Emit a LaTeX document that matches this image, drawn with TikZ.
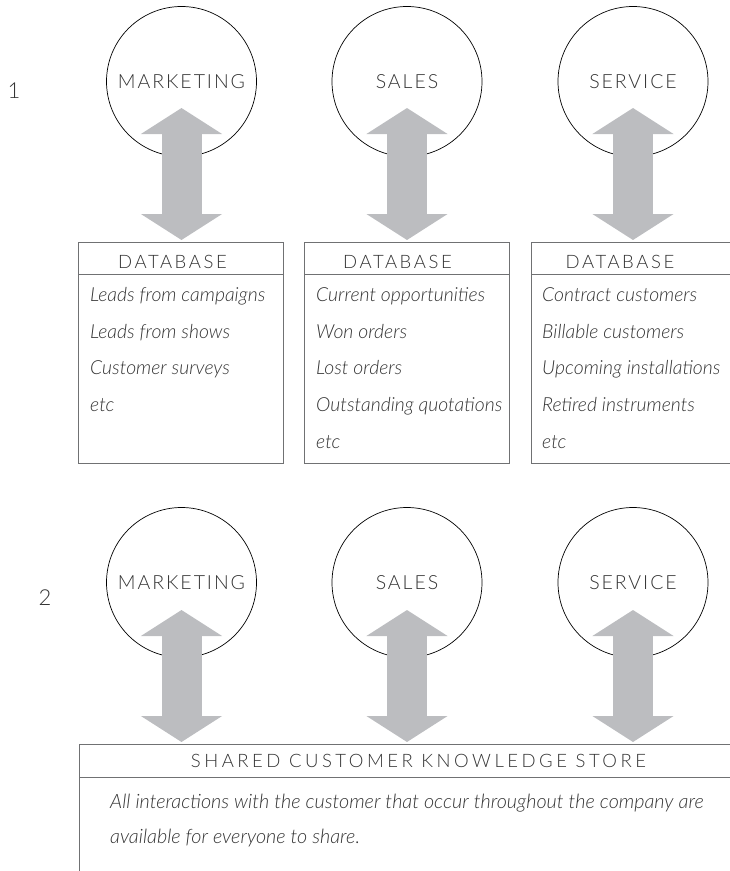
\documentclass[tikz,border=0pt]{standalone}
\usepackage{fontspec}
\setmainfont{Lato Light}[ItalicFont={Lato Light Italic}]
\newfontfamily\capsfont[LetterSpace=10]{Lato Light}
\newfontfamily\headfont[LetterSpace=14]{Lato Light}
\newfontfamily\storefont[LetterSpace=19]{Lato Light}
\usetikzlibrary{arrows.meta,calc}
\definecolor{ink}{HTML}{333333}
\definecolor{arrowgrey}{HTML}{BCBDC0}
\definecolor{rulegrey}{HTML}{707173}

\begin{document}
\begin{tikzpicture}[x=1pt,y=-1pt,
  dept/.style={circle, draw=black, line width=0.7pt, minimum size=150pt,
    inner sep=0pt, text=ink, text depth=0pt,
    font=\capsfont\fontsize{19.5}{24}\selectfont},
  dbbox/.style={draw=rulegrey, line width=1pt, rectangle, anchor=north west,
    minimum width=205pt, minimum height=221pt, inner sep=0pt},
  storebox/.style={draw=rulegrey, line width=1pt, rectangle, anchor=north west,
    minimum width=678pt, minimum height=180pt, inner sep=0pt},
  rulesep/.style={draw=rulegrey, line width=1pt},
  hdr/.style={anchor=base, inner sep=0pt, text=ink,
    font=\headfont\fontsize{18.5}{22}\selectfont},
  storehdr/.style={anchor=base, inner sep=0pt, text=ink,
    font=\storefont\fontsize{18.5}{22}\selectfont},
  item/.style={anchor=base west, inner sep=0pt, text=ink,
    font=\itshape\fontsize{19.4}{24}\selectfont},
  note/.style={anchor=base west, inner sep=0pt, text=ink,
    font=\itshape\fontsize{19.8}{24}\selectfont},
  stagenum/.style={inner sep=0pt, text=ink, font=\fontsize{22}{26}\selectfont},
  bigarrow/.style={color=arrowgrey, line width=40pt,
    {Triangle[length=26pt,width=80pt]}-{Triangle[length=26pt,width=80pt]}}
]
\useasboundingbox (0,0) rectangle (729,871);

% ---------- stage 1: separate databases ----------
\node[stagenum] (s1) at (14,91) {1};

\node[dept] (m1) at (181.5,81.5) {MARKETING};
\node[dept] (sa1) at (407,81.5) {SALES};
\node[dept] (se1) at (633,81.5) {SERVICE};

\node[dbbox] (db1) at (78,242) {};
\node[dbbox] (db2) at (304,242) {};
\node[dbbox] (db3) at (531,242) {};
\foreach \b in {db1,db2,db3}
  \draw[rulesep] ($(\b.north west)+(0,32)$) -- ($(\b.north east)+(0,32)$);

\node[hdr] (h1) at (172.5,268) {DATABASE};
\node[hdr] (h2) at (397.5,268) {DATABASE};
\node[hdr] (h3) at (620,268) {DATABASE};

\node[item] (a1) at (90,301) {Leads from campaigns};
\node[item] (a2) at (90,338) {Leads from shows};
\node[item] (a3) at (90,374) {Customer surveys};
\node[item] (a4) at (90,411) {etc};

\node[item] (b1) at (316,301) {Current opportunities};
\node[item] (b2) at (316,338) {Won orders};
\node[item] (b3) at (316,374) {Lost orders};
\node[item] (b4) at (316,411) {Outstanding quotations};
\node[item] (b5) at (316,448) {etc};

\node[item] (c1) at (542,301) {Contract customers};
\node[item] (c2) at (542,338) {Billable customers};
\node[item] (c3) at (542,374) {Upcoming installations};
\node[item] (c4) at (542,411) {Retired instruments};
\node[item] (c5) at (542,448) {etc};

\draw[bigarrow] ($(m1.center)+(0,26.5)$) -- ($(m1.center |- db1.north)+(0,-2)$);
\draw[bigarrow] ($(sa1.center)+(0,26.5)$) -- ($(sa1.center |- db2.north)+(0,-2)$);
\draw[bigarrow] ($(se1.center)+(0,26.5)$) -- ($(se1.center |- db3.north)+(0,-2)$);

% ---------- stage 2: one shared store ----------
\node[stagenum] (s2) at (45,598) {2};

\node[dept] (m2) at (181.5,582.5) {MARKETING};
\node[dept] (sa2) at (407,582.5) {SALES};
\node[dept] (se2) at (633,582.5) {SERVICE};

\node[storebox] (st) at (79,744) {};
\draw[rulesep] ($(st.north west)+(0,33)$) -- ($(st.north east)+(0,33)$);

\node[storehdr] (sh) at (418.5,767) {SHARED CUSTOMER KNOWLEDGE STORE};
\node[note] (t1) at (110,808) {All interactions with the customer that occur throughout the company are};
\node[note] (t2) at (110,843) {available for everyone to share.};

\draw[bigarrow] ($(m2.center)+(0,27.5)$) -- ($(m2.center |- st.north)+(0,-2)$);
\draw[bigarrow] ($(sa2.center)+(0,27.5)$) -- ($(sa2.center |- st.north)+(0,-2)$);
\draw[bigarrow] ($(se2.center)+(0,27.5)$) -- ($(se2.center |- st.north)+(0,-2)$);
\end{tikzpicture}
\end{document}
